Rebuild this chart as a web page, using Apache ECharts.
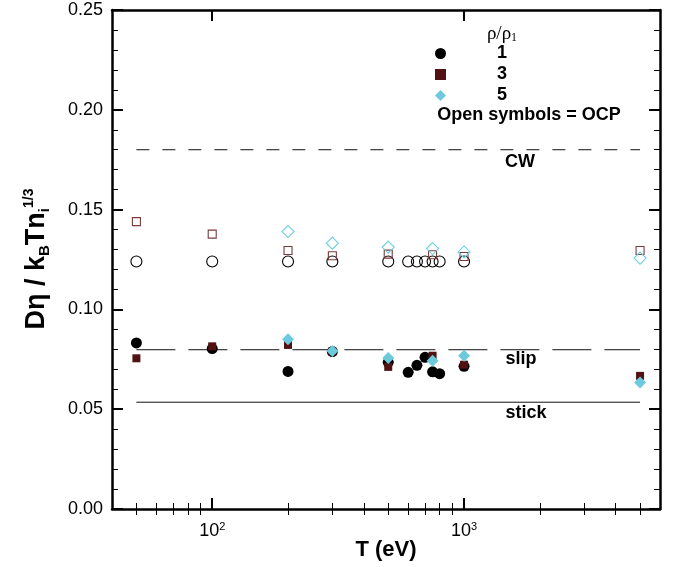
<!DOCTYPE html>
<html>
<head>
<meta charset="utf-8">
<script src="https://cdn.jsdelivr.net/npm/echarts@6/dist/echarts.min.js"></script>
<style>
html,body{margin:0;padding:0;background:#fff;}
#chart{width:676px;height:567px;}
</style>
</head>
<body>
<div id="chart"></div>
<script>
// ---- Data ----
// MD results (filled symbols)
const md1T = [50, 100, 200, 300, 500, 600, 650, 700, 750, 800, 1000];
const md1V = [0.0832, 0.0804, 0.0689, 0.0789, 0.0735, 0.0685, 0.0720, 0.0760, 0.0687, 0.0678, 0.0715];
const md3T = [50, 100, 200, 300, 500, 750, 1000, 5000];
const md3V = [0.0755, 0.0815, 0.0822, 0.0789, 0.0712, 0.0768, 0.0723, 0.0667];
const md5T = [200, 300, 500, 750, 1000, 5000];
const md5V = [0.0850, 0.0792, 0.0757, 0.0743, 0.0768, 0.0634];
// OCP results (open symbols)
const ocp1T = [50, 100, 200, 300, 500, 600, 650, 700, 750, 800, 1000];
const ocp1V = [0.124, 0.124, 0.124, 0.124, 0.124, 0.124, 0.124, 0.124, 0.124, 0.124, 0.124];
const ocp3T = [50, 100, 200, 300, 500, 750, 1000, 5000];
const ocp3V = [0.1440, 0.1377, 0.1295, 0.1269, 0.1277, 0.1274, 0.1265, 0.1295];
const ocp5T = [200, 300, 500, 750, 1000, 5000];
const ocp5V = [0.1390, 0.1332, 0.1312, 0.1305, 0.1288, 0.1257];
// Reference lines
const lineT = [50, 5000];
const cwV = 0.180;
const slipV = 0.0798;
const stickV = 0.0535;
// Ticks
const xMajorTicks = [100, 1000];
const xMinorTicks = [50, 60, 70, 80, 90, 200, 300, 400, 500, 600, 700, 800, 900, 2000, 3000, 4000, 5000];
const legendNames = ['1', '3', '5'];

const FONT = 'Liberation Sans, Arial, Helvetica, sans-serif';
const pairs = (xs, ys) => xs.map((x, i) => [x, ys[i]]);

const chart = echarts.init(document.getElementById('chart'), null, {renderer: 'canvas'});

const axisLineStyle = {show: true, onZero: false, lineStyle: {color: '#000', width: 2.5}};
function xAxisDef(pos, major, withLabel, showLine) {
  return {
    type: 'log', logBase: 10, min: 40, max: 6000, position: pos,
    axisLine: showLine ? axisLineStyle : {show: false},
    splitLine: {show: false},
    minorTick: {show: false},
    axisTick: {
      show: true, inside: true,
      length: major ? 11 : 6,
      lineStyle: {color: '#000', width: major ? 2 : 1},
      customValues: major ? xMajorTicks : xMinorTicks
    },
    axisLabel: withLabel ? {
      show: true, margin: 12,
      customValues: xMajorTicks,
      formatter: v => '{b|10}{s|' + Math.round(Math.log10(v)) + '}',
      rich: {
        b: {fontSize: 18, fontFamily: FONT, color: '#000', lineHeight: 20},
        s: {fontSize: 11, fontFamily: FONT, color: '#000', lineHeight: 8, verticalAlign: 'top'}
      }
    } : {show: false},
    name: withLabel ? 'T (eV)' : '',
    nameLocation: 'middle', nameGap: 30, nameMoveOverlap: false,
    nameTextStyle: {fontSize: 22, fontWeight: 'bold', fontFamily: FONT, color: '#000'}
  };
}
function yAxisDef(pos, withLabel) {
  return {
    type: 'value', min: 0, max: 0.25, interval: 0.05, position: pos,
    axisLine: axisLineStyle,
    splitLine: {show: false},
    axisTick: {show: true, inside: true, length: 11, lineStyle: {color: '#000', width: 2}},
    minorTick: {show: true, splitNumber: 5, length: 6, lineStyle: {color: '#000', width: 1}},
    axisLabel: withLabel ? {
      show: true, margin: 9, fontSize: 18, fontFamily: FONT, color: '#000',
      formatter: v => v.toFixed(2)
    } : {show: false}
  };
}

function scatter(name, xs, ys, symbol, size, filled, color, z) {
  return {
    type: 'scatter', name: name, xAxisIndex: 0, yAxisIndex: 0,
    data: pairs(xs, ys), symbol: symbol, symbolSize: size, z: z,
    itemStyle: filled ? {color: color, opacity: 1} :
      {color: 'rgba(0,0,0,0)', borderColor: color, borderWidth: 1.1, opacity: 1},
    emphasis: {disabled: true}
  };
}
function refLine(name, v, dash) {
  return {
    type: 'line', name: name, xAxisIndex: 0, yAxisIndex: 0,
    data: lineT.map(t => [t, v]), symbol: 'none', z: 1,
    lineStyle: {color: '#111', width: 1, type: dash},
    emphasis: {disabled: true}
  };
}

const labelFont = {fontSize: 18, fontWeight: 'bold', fontFamily: FONT, fill: '#000'};

const option = {
  animation: false,
  backgroundColor: '#fff',
  grid: {left: 112, right: 16, top: 10, bottom: 58, containLabel: false, outerBoundsMode: 'none'},
  xAxis: [
    xAxisDef('bottom', true, true, true),
    xAxisDef('bottom', false, false, false),
    xAxisDef('top', true, false, true),
    xAxisDef('top', false, false, false)
  ],
  yAxis: [yAxisDef('left', true), yAxisDef('right', false)],
  legend: {
    data: legendNames, orient: 'vertical', left: 430, top: 39.5,
    itemWidth: 11, itemHeight: 11, itemGap: 3,
    selectedMode: false,
    textStyle: {fontSize: 18, fontWeight: 'bold', fontFamily: FONT, color: '#000', padding: [0, 0, 0, 46], lineHeight: 18}
  },
  series: [
    refLine('CW', cwV, [13, 13]),
    refLine('slip', slipV, [39, 13]),
    refLine('stick', stickV, 'solid'),
    scatter('OCP 1', ocp1T, ocp1V, 'circle', 11, false, '#000', 2),
    scatter('OCP 3', ocp3T, ocp3V, 'rect', 8, false, '#7d3b3b', 3),
    scatter('OCP 5', ocp5T, ocp5V, 'diamond', 12, false, '#6ccfe0', 4),
    scatter('1', md1T, md1V, 'circle', 11, true, '#000', 5),
    scatter('3', md3T, md3V, 'rect', 8, true, '#521212', 6),
    scatter('5', md5T, md5V, 'diamond', 12, true, '#6ccadc', 7)
  ],
  graphic: [
    {type: 'text', x: 37, y: 259, rotation: Math.PI / 2,
      style: {
        text: '{m|D\u03b7 / k}{sb|B}{m|Tn}{sb|i}{sp|1/3}',
        textAlign: 'center', textVerticalAlign: 'middle',
        rich: {
          m: {fontSize: 27, fontWeight: 'bold', fontFamily: FONT, fill: '#000', lineHeight: 30},
          sb: {fontSize: 15, fontWeight: 'bold', fontFamily: FONT, fill: '#000', lineHeight: 13, verticalAlign: 'bottom'},
          sp: {fontSize: 14, fontWeight: 'bold', fontFamily: FONT, fill: '#000', lineHeight: 10, verticalAlign: 'top'}
        }
      }},
    {type: 'text', x: 502, y: 34,
      style: {
        text: '{r|\u03c1/\u03c1}{s|1}',
        textAlign: 'center', textVerticalAlign: 'middle',
        rich: {
          r: {fontSize: 19, fontFamily: 'Liberation Serif, Times New Roman, serif', fill: '#000', lineHeight: 20},
          s: {fontSize: 12, fontFamily: 'Liberation Serif, Times New Roman, serif', fill: '#000', lineHeight: 14, verticalAlign: 'bottom'}
        }
      }},
    {type: 'text', x: 529, y: 115, style: Object.assign({text: 'Open symbols = OCP', textAlign: 'center', textVerticalAlign: 'middle'}, labelFont)},
    {type: 'text', x: 520, y: 162, style: Object.assign({text: 'CW', textAlign: 'center', textVerticalAlign: 'middle'}, labelFont)},
    {type: 'text', x: 521, y: 359, style: Object.assign({text: 'slip', textAlign: 'center', textVerticalAlign: 'middle'}, labelFont)},
    {type: 'text', x: 526, y: 413, style: Object.assign({text: 'stick', textAlign: 'center', textVerticalAlign: 'middle'}, labelFont)}
  ]
};
chart.setOption(option);
</script>
</body>
</html>
